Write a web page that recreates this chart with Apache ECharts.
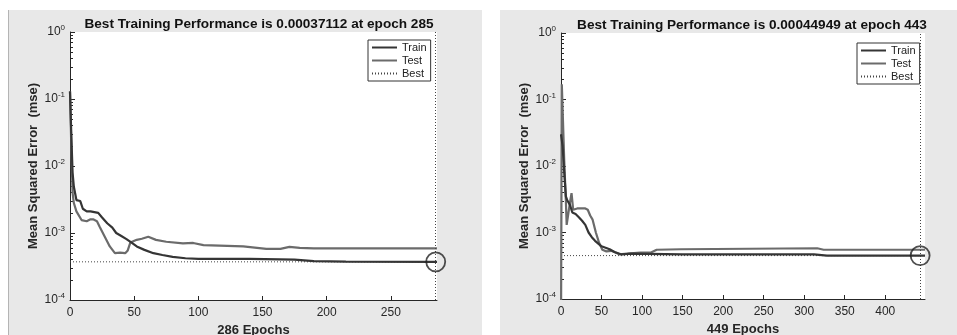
<!DOCTYPE html>
<html><head><meta charset="utf-8">
<script src="https://cdn.jsdelivr.net/npm/echarts@6/dist/echarts.min.js"></script>
<style>html,body{margin:0;padding:0;background:#fff}#c{width:957px;height:335px}</style>
</head><body><div id="c"></div>
<script>
// ---- data ----
const leftTrain = [[0,0.13],[1,0.03],[2,0.008],[3,0.0049],[5,0.0031],[8,0.003],[10,0.0023],[13,0.0021],[16,0.0021],[22,0.002],[25,0.0017],[29,0.0014],[33,0.0012],[36,0.001],[40,0.0009],[44,0.00081],[48,0.00072],[52,0.00063],[58,0.00056],[65,0.0005],[72,0.00047],[80,0.00044],[90,0.00042],[100,0.00041],[140,0.00041],[175,0.00040],[190,0.00038],[215,0.000373],[286,0.000371]];
const leftTest  = [[0,0.13],[1,0.02],[2,0.004],[3,0.0028],[5,0.0021],[9,0.00156],[13,0.0015],[16,0.0016],[18,0.0016],[21,0.0015],[23,0.00125],[27,0.00089],[31,0.00063],[35,0.0005],[39,0.00051],[43,0.0005],[45,0.00055],[47,0.00072],[52,0.00079],[56,0.00082],[61,0.00088],[67,0.00079],[75,0.00074],[88,0.0007],[96,0.00071],[104,0.00066],[135,0.00063],[153,0.00058],[164,0.00058],[171,0.00062],[179,0.0006],[190,0.00059],[286,0.00059]];
const rightTrain = [[0,0.03],[2,0.02],[4,0.008],[6,0.0035],[8,0.003],[11,0.0026],[14,0.002],[18,0.0019],[22,0.0017],[26,0.0015],[30,0.0013],[34,0.001],[38,0.00085],[42,0.00075],[46,0.00068],[50,0.00062],[55,0.00059],[60,0.00056],[66,0.00051],[74,0.00047],[86,0.00048],[150,0.00047],[312,0.00047],[328,0.00045],[449,0.00045]];
const rightTest  = [[0,0.00003],[1,0.17],[2,0.07],[4,0.012],[6,0.003],[7,0.0013],[9,0.0013],[11,0.0028],[13,0.0039],[15,0.0022],[20,0.0023],[25,0.0023],[30,0.0023],[33,0.0022],[36,0.0018],[39,0.00156],[43,0.001],[47,0.0007],[51,0.00055],[56,0.00052],[62,0.00053],[72,0.00047],[82,0.00048],[98,0.0005],[111,0.0005],[118,0.00055],[148,0.00056],[316,0.00058],[324,0.00055],[449,0.00055]];
const bestL = 0.00037112, bestEpochL = 285, epochsL = 286;
const bestR = 0.00044949, bestEpochR = 443, epochsR = 449;
const xTicksL = [0,50,100,150,200,250];
const xTicksR = [0,50,100,150,200,250,300,350,400];
const yTicks = [0.0001,0.001,0.01,0.1,1];
const yMinor = [2e-4,3e-4,4e-4,5e-4,6e-4,7e-4,8e-4,9e-4,2e-3,3e-3,4e-3,5e-3,6e-3,7e-3,8e-3,9e-3,2e-2,3e-2,4e-2,5e-2,6e-2,7e-2,8e-2,9e-2,0.2,0.3,0.4,0.5,0.6,0.7,0.8,0.9];
const titleL = 'Best Training Performance is 0.00037112 at epoch 285';
const titleR = 'Best Training Performance is 0.00044949 at epoch 443';

// ---- chart ----
const FONT = '"Liberation Sans", Arial, sans-serif';
const INK = '#262626', TRAIN = '#353535', TEST = '#6b6b6b';
const chart = echarts.init(document.getElementById('c'), null, {renderer:'canvas'});

function xAxis(gi, max, ticks, name){
  return {type:'value', gridIndex:gi, min:0, max:max,
    name:name, nameLocation:'middle', nameGap:22,
    nameTextStyle:{fontFamily:FONT, fontWeight:'bold', fontSize:13, color:INK},
    axisLine:{show:true, lineStyle:{color:INK, width:1}},
    axisTick:{inside:true, length:4, customValues:ticks, lineStyle:{color:INK}},
    axisLabel:{customValues:ticks, fontFamily:FONT, fontSize:12, color:INK, margin:7},
    splitLine:{show:false}};
}
function yAxis(gi){
  return {type:'log', logBase:10, gridIndex:gi, min:0.0001, max:1, position:'left',
    name:'Mean Squared Error  (mse)', nameLocation:'middle', nameGap:30,
    nameTextStyle:{fontFamily:FONT, fontWeight:'bold', fontSize:13, color:INK},
    axisLine:{show:true, lineStyle:{color:INK, width:1}},
    axisTick:{inside:true, length:5, customValues:yTicks, lineStyle:{color:INK}},
    axisLabel:{customValues:yTicks, margin:5,
      formatter:function(v){const e=Math.round(Math.log10(v));return '{b|10}{s|'+e+'}';},
      rich:{b:{fontFamily:FONT, fontSize:12, color:INK, lineHeight:16},
            s:{fontFamily:FONT, fontSize:8, color:INK, verticalAlign:'top', lineHeight:10}}},
    splitLine:{show:false}};
}
function yMinorAxis(gi){
  return {type:'log', logBase:10, gridIndex:gi, min:0.0001, max:1, position:'left', offset:0,
    axisLine:{show:false}, axisLabel:{show:false}, splitLine:{show:false},
    axisTick:{inside:true, length:3, customValues:yMinor, lineStyle:{color:INK}}};
}
function legend(left, top){
  return {orient:'vertical', left:left, top:top, data:['Train','Test','Best'],
    backgroundColor:'#fff', borderColor:'#333', borderWidth:1, borderRadius:0,
    padding:[2,4,2,3], itemGap:2, itemWidth:25, itemHeight:11,
    itemStyle:{opacity:0},
    textStyle:{fontFamily:FONT, fontSize:11, color:'#222'}, selectedMode:false};
}
function seriesFor(gi, train, test, best, bestEpoch){
  return [
    {name:'Train', type:'line', xAxisIndex:gi, yAxisIndex:gi*2, data:train, symbol:'none',
      lineStyle:{color:TRAIN, width:2.2}, itemStyle:{color:TRAIN}, z:4},
    {name:'Test', type:'line', xAxisIndex:gi, yAxisIndex:gi*2, data:test, symbol:'none',
      lineStyle:{color:TEST, width:2.2}, itemStyle:{color:TEST}, z:3},
    {name:'Best', type:'line', xAxisIndex:gi, yAxisIndex:gi*2, data:[[0,best],[bestEpoch,best]], symbol:'none',
      lineStyle:{color:'#444', width:1, type:[1,2]}, itemStyle:{color:'#444'}, z:2,
      markLine:{silent:true, symbol:'none', label:{show:false},
        lineStyle:{color:'#444', width:1, type:[1,2]}, data:[{xAxis:bestEpoch}]}},
    {name:'bestPoint', type:'scatter', xAxisIndex:gi, yAxisIndex:gi*2, data:[[bestEpoch,best]],
      symbol:'circle', symbolSize:19, z:5,
      itemStyle:{color:'rgba(0,0,0,0)', borderColor:'#222', borderWidth:1.8}}
  ];
}

chart.setOption({
  animation:false,
  backgroundColor:'#fff',
  textStyle:{fontFamily:FONT},
  graphic:[
    {type:'rect', z:-10, shape:{x:8, y:10, width:474, height:325}, style:{fill:'#e8e8e8'}},
    {type:'line', z:-9, shape:{x1:8.5, y1:10, x2:8.5, y2:335}, style:{stroke:'#b4b4b4', lineWidth:1}},
    {type:'rect', z:-10, shape:{x:500, y:10, width:457, height:325}, style:{fill:'#e8e8e8'}}
  ],
  title:[
    {text:titleL, left:254, top:12, textAlign:'center', textStyle:{fontFamily:FONT, fontWeight:'bold', fontSize:13.6, color:'#111'}},
    {text:titleR, left:747, top:13, textAlign:'center', textStyle:{fontFamily:FONT, fontWeight:'bold', fontSize:13.6, color:'#111'}}
  ],
  legend:[legend(368,40), legend(857,43)],
  grid:[
    {left:70, top:32, width:367, height:268, show:true, backgroundColor:'#fff', borderWidth:0, containLabel:false, outerBoundsMode:'none'},
    {left:561, top:33, width:364, height:266, show:true, backgroundColor:'#fff', borderWidth:0, containLabel:false, outerBoundsMode:'none'}
  ],
  xAxis:[xAxis(0, epochsL, xTicksL, '286 Epochs'), xAxis(1, epochsR, xTicksR, '449 Epochs')],
  yAxis:[yAxis(0), yMinorAxis(0), yAxis(1), yMinorAxis(1)],
  series:[].concat(
    seriesFor(0, leftTrain, leftTest, bestL, bestEpochL),
    seriesFor(1, rightTrain, rightTest, bestR, bestEpochR))
});
</script></body></html>
